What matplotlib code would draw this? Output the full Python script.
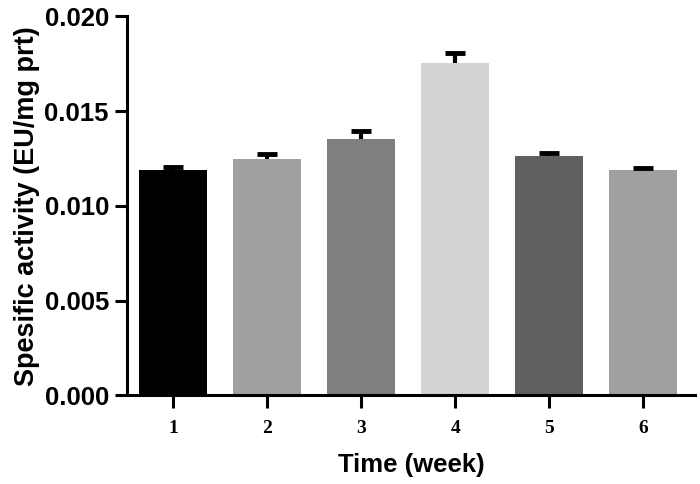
import matplotlib
matplotlib.use("Agg")
import matplotlib.pyplot as plt

weeks = ["1", "2", "3", "4", "5", "6"]
activity = [0.01188, 0.01246, 0.01355, 0.01752, 0.01264, 0.01188]
sem = [0.00016, 0.00027, 0.00041, 0.00057, 0.00018, 0.00012]
colors = ["#000000", "#a0a0a0", "#7f7f7f", "#d3d3d3", "#606060", "#a0a0a0"]
yticks = [0.000, 0.005, 0.010, 0.015, 0.020]

fig = plt.figure(figsize=(7.0, 4.84), dpi=100)
ax = fig.add_axes([0.1814, 0.183, 0.8115, 0.783])

x = list(range(1, len(weeks) + 1))
ax.bar(x, activity, width=0.72, color=colors, edgecolor="none", zorder=2)
eb = ax.errorbar(x, activity, yerr=[[0] * len(sem), sem], fmt="none", ecolor="black",
                 elinewidth=3, capsize=7.5, capthick=3.5, zorder=3)
# only the upper cap, as in the reference
eb[1][0].set_visible(False)

ax.set_xlim(0.51, 6.55)
ax.set_ylim(0, 0.020)
ax.set_yticks(yticks)
ax.set_yticklabels([f"{v:.3f}" for v in yticks])
ax.set_xticks(x)
ax.set_xticklabels(weeks)

for s in ["top", "right"]:
    ax.spines[s].set_visible(False)
for s in ["left", "bottom"]:
    ax.spines[s].set_linewidth(2.2)

ax.tick_params(axis="both", direction="out", length=9, width=2.2, color="black")
ax.tick_params(axis="y", pad=4)
ax.tick_params(axis="x", pad=9)

for lab in ax.get_yticklabels():
    lab.set_fontfamily("Liberation Sans")
    lab.set_fontweight("bold")
    lab.set_fontsize(18.5)
for lab in ax.get_xticklabels():
    lab.set_fontfamily("Liberation Serif")
    lab.set_fontweight("bold")
    lab.set_fontsize(14)

ax.set_ylabel("Spesific activity (EU/mg prt)", fontfamily="Liberation Sans",
              fontweight="bold", fontsize=19.5, labelpad=3)
ax.set_xlabel("Time (week)", fontfamily="Liberation Sans", fontweight="bold",
              fontsize=18.5, labelpad=11)

fig.savefig("out.png", dpi=100)
